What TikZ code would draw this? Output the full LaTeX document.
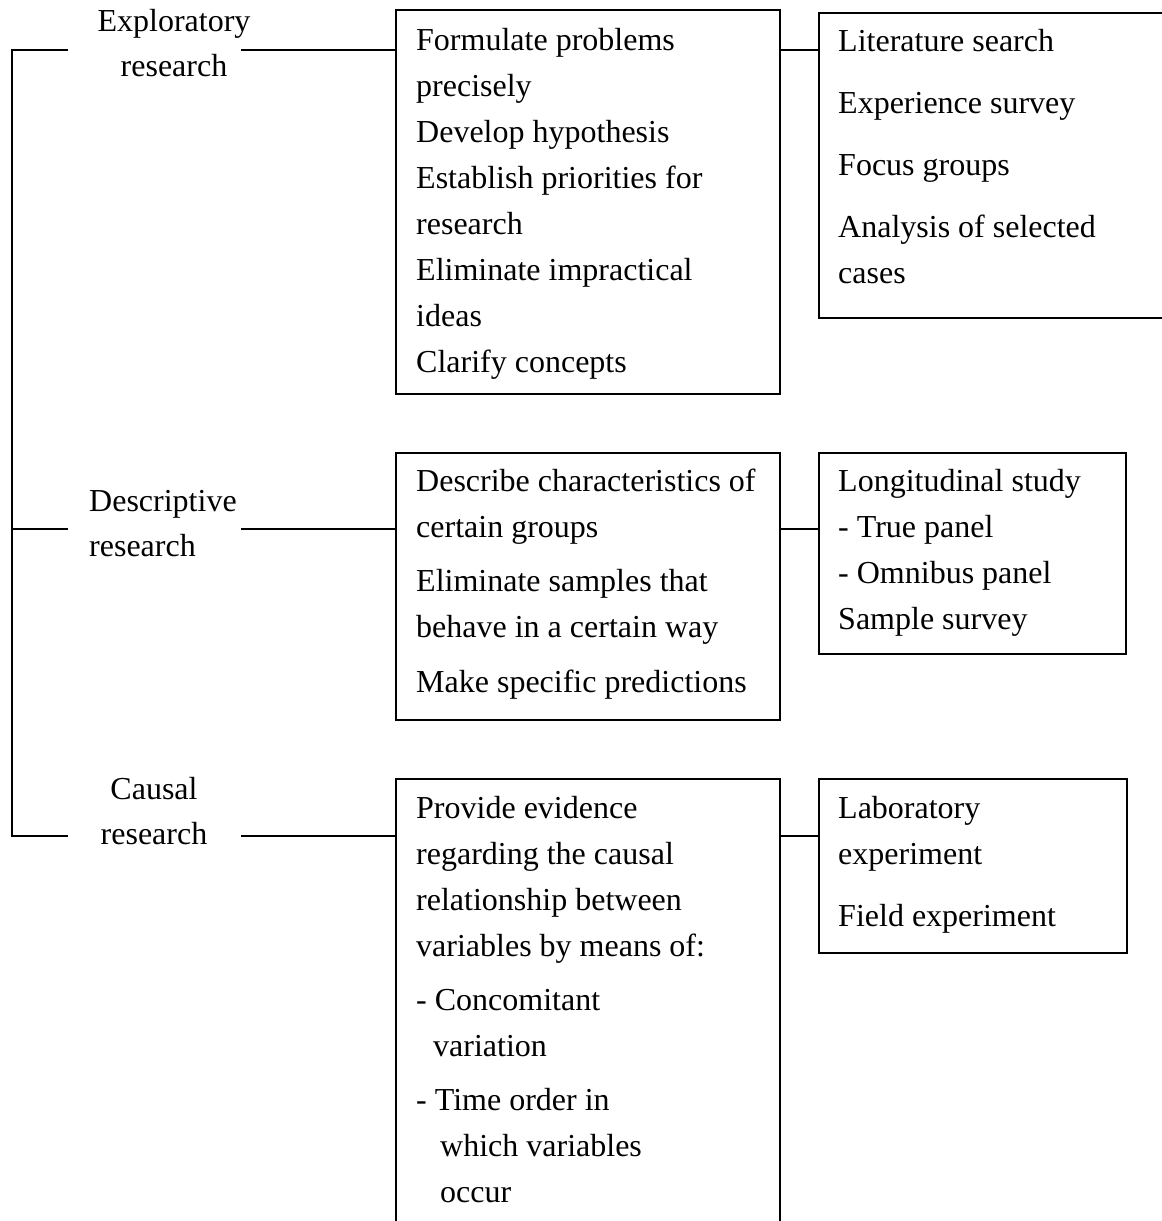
\documentclass[tikz,border=0pt]{standalone}
\usepackage{fontspec}
\setmainfont{Liberation Serif}
\tikzset{
  box/.style={draw, line width=1.5pt, inner sep=0pt, anchor=north west, rectangle},
  txt/.style={inner sep=0pt, anchor=north west, align=left, font=\fontsize{32}{46}\selectfont},
  lbl/.style={inner sep=0pt, anchor=north, align=center, font=\fontsize{32}{45}\selectfont},
  link/.style={line width=1.5pt},
}
\begin{document}
\begin{tikzpicture}[x=1pt,y=-1pt]
\clip (0,0) rectangle (1162,1221);
% boxes
\node[box, minimum width=384pt, minimum height=384pt] (b1) at (395,9) {};
\node[box, minimum width=384pt, minimum height=267pt] (b2) at (395,452) {};
\node[box, minimum width=384pt, minimum height=480pt] (b3) at (395,778) {};
\node[box, minimum width=370pt, minimum height=305pt] (r1) at (818,12) {};
\node[box, minimum width=307pt, minimum height=201pt] (r2) at (818,452) {};
\node[box, minimum width=308pt, minimum height=174pt] (r3) at (818,778) {};
% texts
\node[txt] (t1) at (416,17.8) {\strut Formulate problems\\ precisely\\ Develop hypothesis\\ Establish priorities for\\ research\\ Eliminate impractical\\ ideas\\ Clarify concepts};
\node[txt] (tr1) at (838,18.8) {\strut Literature search\\[16pt] Experience survey\\[16pt] Focus groups\\[16pt] Analysis of selected\\ cases};
\node[txt] (t2) at (416,458.8) {\strut Describe characteristics of\\ certain groups\\[8pt] Eliminate samples that\\ behave in a certain way\\[9pt] Make specific predictions};
\node[txt] (tr2) at (838,458.8) {\strut Longitudinal study\\ - True panel\\ - Omnibus panel\\ Sample survey};
\node[txt] (t3) at (416,785.8) {\strut Provide evidence\\ regarding the causal\\ relationship between\\ variables by means of:\\[8pt] - Concomitant\\ \hspace*{17pt}variation\\[8pt] - Time order in\\ \hspace*{24pt}which variables\\ \hspace*{24pt}occur};
\node[txt] (tr3) at (838,785.8) {\strut Laboratory\\ experiment\\[16pt] Field experiment};
% labels
\node[lbl] (l1) at (174,-0.2) {\strut Exploratory\\ research};
\node[txt, font=\fontsize{32}{45}\selectfont] (l2) at (89,479.8) {\strut Descriptive\\ research};
\node[lbl] (l3) at (154,767.8) {\strut Causal\\ research};
% connector points
\coordinate (s1) at (12,50);
\coordinate (s2) at (12,529);
\coordinate (s3) at (12,836);
\coordinate (p1) at (68,50);
\coordinate (p2) at (68,529);
\coordinate (p3) at (68,836);
\coordinate (q1) at (241,50);
\coordinate (q2) at (241,529);
\coordinate (q3) at (241,836);
% connectors
\draw[link] (p1) -- (s1) -- (s3) -- (p3);
\draw[link] (s2) -- (p2);
\draw[link] (q1) -- (q1 -| b1.west);
\draw[link] (q2) -- (q2 -| b2.west);
\draw[link] (q3) -- (q3 -| b3.west);
\draw[link] (b1.east |- q1) -- (r1.west |- q1);
\draw[link] (b2.east |- q2) -- (r2.west |- q2);
\draw[link] (b3.east |- q3) -- (r3.west |- q3);
\end{tikzpicture}
\end{document}
